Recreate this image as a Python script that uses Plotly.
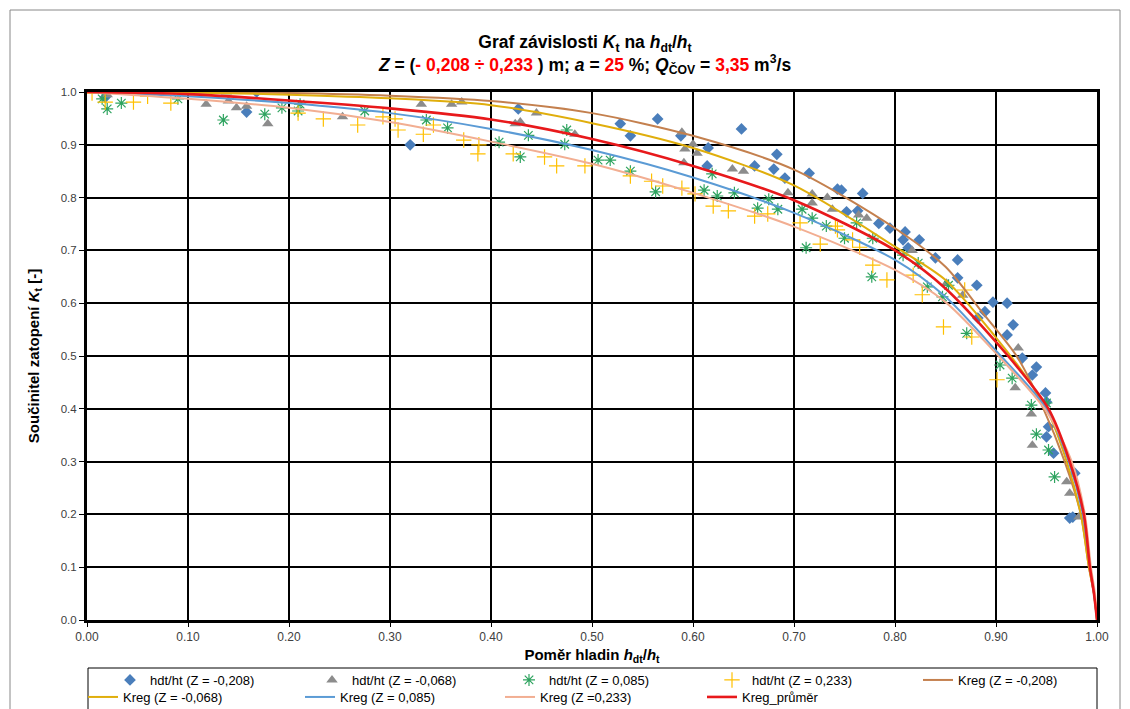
import plotly.graph_objects as go

# ---------------- data ----------------
# measured points hdt/ht vs Kt
p208_x = [0.018, 0.158, 0.168, 0.32, 0.427, 0.528, 0.538, 0.565, 0.588, 0.615, 0.614, 0.648, 0.661, 0.683, 0.680,
          0.691, 0.715, 0.743, 0.747, 0.752, 0.763, 0.768, 0.784, 0.795, 0.810, 0.808, 0.824, 0.813, 0.840, 0.862,
          0.862, 0.881, 0.897, 0.911, 0.889, 0.882, 0.917, 0.911, 0.926, 0.94, 0.936, 0.949, 0.95, 0.952, 0.95,
          0.957, 0.978, 0.976, 0.973]
p208_y = [0.99, 0.962, 1.0, 0.90, 0.968, 0.94, 0.917, 0.949, 0.917, 0.894, 0.86, 0.930, 0.86, 0.882, 0.854,
          0.837, 0.846, 0.816, 0.814, 0.773, 0.775, 0.808, 0.751, 0.742, 0.735, 0.72, 0.72, 0.705, 0.686, 0.682,
          0.648, 0.634, 0.602, 0.600, 0.584, 0.572, 0.559, 0.54, 0.496, 0.479, 0.464, 0.43, 0.413, 0.366, 0.347,
          0.316, 0.278, 0.195, 0.193]

p068_x = [0.02, 0.118, 0.14, 0.148, 0.158, 0.179, 0.138, 0.253, 0.331, 0.361, 0.371, 0.429, 0.424, 0.445, 0.483,
          0.589, 0.592, 0.6, 0.604, 0.591, 0.639, 0.65, 0.694, 0.718, 0.718, 0.733, 0.738, 0.764, 0.772, 0.817,
          0.851, 0.867, 0.922, 0.919, 0.935, 0.936, 0.970, 0.982, 0.973]
p068_y = [0.995, 0.977, 0.983, 0.97, 0.973, 0.94, 1.0, 0.953, 0.977, 0.977, 0.981, 0.943, 0.94, 0.96, 0.92,
          0.924, 0.892, 0.901, 0.884, 0.866, 0.854, 0.85, 0.809, 0.807, 0.79, 0.8, 0.778, 0.767, 0.761, 0.70,
          0.638, 0.615, 0.515, 0.44, 0.39, 0.331, 0.262, 0.195, 0.24]

p085_x = [0.015, 0.02, 0.034, 0.09, 0.135, 0.176, 0.193, 0.209, 0.211, 0.275, 0.336, 0.357, 0.408, 0.429, 0.437,
          0.475, 0.473, 0.506, 0.518, 0.538, 0.563, 0.619, 0.611, 0.624, 0.641, 0.664, 0.675, 0.684, 0.708, 0.712,
          0.718, 0.732, 0.750, 0.762, 0.778, 0.777, 0.808, 0.823, 0.832, 0.847, 0.853, 0.871, 0.904, 0.916, 0.935,
          0.95, 0.94, 0.952, 0.958]
p085_y = [0.987, 0.968, 0.979, 0.987, 0.947, 0.958, 0.97, 0.964, 0.977, 0.964, 0.947, 0.932, 0.905, 0.877, 0.918,
          0.928, 0.901, 0.871, 0.871, 0.85, 0.811, 0.845, 0.814, 0.803, 0.809, 0.78, 0.797, 0.778, 0.778, 0.705,
          0.761, 0.746, 0.723, 0.752, 0.723, 0.65, 0.691, 0.676, 0.631, 0.612, 0.634, 0.543, 0.483, 0.458, 0.407,
          0.411, 0.352, 0.322, 0.271]

p233_x = [0.005, 0.018, 0.046, 0.06, 0.083, 0.09, 0.209, 0.234, 0.268, 0.293, 0.305, 0.308, 0.333, 0.343, 0.373,
          0.388, 0.387, 0.422, 0.453, 0.465, 0.493, 0.538, 0.559, 0.57, 0.589, 0.602, 0.62, 0.635, 0.661, 0.674,
          0.706, 0.726, 0.741, 0.758, 0.743, 0.765, 0.778, 0.792, 0.818, 0.827, 0.848, 0.876, 0.901, 0.869]
p233_y = [0.998, 0.981, 0.981, 0.992, 0.979, 1.0, 0.96, 0.949, 0.9375, 0.953, 0.949, 0.928, 0.92, 0.9375, 0.909,
          0.9, 0.883, 0.883, 0.877, 0.86, 0.86, 0.841, 0.831, 0.822, 0.818, 0.807, 0.784, 0.775, 0.765, 0.769,
          0.752, 0.712, 0.746, 0.72, 0.739, 0.706, 0.672, 0.644, 0.653, 0.616, 0.555, 0.536, 0.455, 0.625]

# regression curves
k208_x = [0, 0.1, 0.2, 0.3, 0.4, 0.5, 0.6, 0.7, 0.8, 0.85, 0.887, 0.921, 0.947, 0.968, 0.984, 0.992, 0.997, 1.0]
k208_y = [1.0, 1.0, 0.998, 0.993, 0.983, 0.96, 0.917, 0.853, 0.742, 0.669, 0.581, 0.498, 0.4, 0.3, 0.2, 0.1, 0.05, 0.0]

k068_x = [0, 0.1, 0.2, 0.3, 0.4, 0.5, 0.6, 0.7, 0.8, 0.85, 0.9, 0.93, 0.95, 0.97, 0.984, 0.992, 0.997, 1.0]
k068_y = [1.0, 0.999, 0.995, 0.988, 0.975, 0.941, 0.894, 0.823, 0.707, 0.644, 0.535, 0.46, 0.4, 0.3, 0.2, 0.1, 0.05, 0.0]

k085_x = [0, 0.1, 0.2, 0.3, 0.4, 0.5, 0.6, 0.7, 0.8, 0.85, 0.9, 0.95, 0.972, 0.986, 0.993, 0.997, 1.0]
k085_y = [1.0, 0.992, 0.979, 0.96, 0.93, 0.89, 0.838, 0.771, 0.682, 0.612, 0.51, 0.4, 0.3, 0.2, 0.1, 0.05, 0.0]

k233_x = [0, 0.1, 0.2, 0.3, 0.4, 0.5, 0.6, 0.7, 0.8, 0.85, 0.9, 0.95, 0.975, 0.988, 0.994, 0.998, 1.0]
k233_y = [1.0, 0.987, 0.97, 0.943, 0.906, 0.864, 0.809, 0.745, 0.663, 0.602, 0.505, 0.395, 0.3, 0.2, 0.1, 0.05, 0.0]

kavg_x = [0, 0.1, 0.2, 0.3, 0.4, 0.5, 0.6, 0.7, 0.8, 0.85, 0.912, 0.952, 0.973, 0.987, 0.993, 0.997, 1.0]
kavg_y = [1.0, 0.996, 0.984, 0.969, 0.948, 0.911, 0.86, 0.795, 0.70, 0.628, 0.5, 0.4, 0.3, 0.2, 0.1, 0.05, 0.0]

x_ticks = [0.0, 0.1, 0.2, 0.3, 0.4, 0.5, 0.6, 0.7, 0.8, 0.9, 1.0]
y_ticks = [0.0, 0.1, 0.2, 0.3, 0.4, 0.5, 0.6, 0.7, 0.8, 0.9, 1.0]

FONT = "Liberation Sans, Arial, sans-serif"

# page body adds an 8px offset; margins compensate so the plot area sits at 87..1097 x 92..620
OFF = 8
ML, MT = 87 - OFF, 92 - OFF
PW, PH = 1010, 528
MR = 1130 - ML - PW
MB = 709 - MT - PH

# legend entry anchors (screen px): (left x, centre y)
LEG_POS = [(110, 680), (312, 680), (509, 680), (712, 680), (918, 680),
           (83, 697), (300, 697), (500, 697), (702, 697)]

fig = go.Figure()

scatter_specs = [
    (p208_x, p208_y, "hdt/ht (Z = -0,208)", dict(symbol="diamond", size=9, color="#4A7EBB")),
    (p068_x, p068_y, "hdt/ht (Z = -0,068)", dict(symbol="triangle-up", size=10, color="#8C8C8C")),
    (p085_x, p085_y, "hdt/ht (Z = 0,085)", dict(symbol="asterisk-open", size=10, color="#2EA35F",
                                                line=dict(color="#2EA35F", width=1.2))),
    (p233_x, p233_y, "hdt/ht (Z = 0,233)", dict(symbol="cross-thin-open", size=11, color="#FFC000",
                                                line=dict(color="#FFC000", width=1.2))),
]
curve_specs = [
    (k208_x, k208_y, "Kreg (Z = -0,208)", "#C4804E", 2),
    (k068_x, k068_y, "Kreg (Z = -0,068)", "#E0AE0C", 2),
    (k085_x, k085_y, "Kreg (Z = 0,085)", "#5B9BD5", 2),
    (k233_x, k233_y, "Kreg (Z =0,233)", "#F2AE92", 2),
    (kavg_x, kavg_y, "Kreg_průměr", "#E8191B", 2.6),
]

legend_names = ["legend"] + ["legend%d" % i for i in range(2, 10)]
idx = 0
for sx, sy, nm, mk in scatter_specs:
    fig.add_trace(go.Scatter(x=sx, y=sy, mode="markers", name=nm, marker=mk, legend=legend_names[idx]))
    idx += 1
for cx, cy, nm, col, w in curve_specs:
    fig.add_trace(go.Scatter(x=cx, y=cy, mode="lines", name=nm, legend=legend_names[idx],
                             line=dict(color=col, width=w, shape="spline", smoothing=0.8)))
    idx += 1

legend_layout = {}
for name, (lx, ly) in zip(legend_names, LEG_POS):
    legend_layout[name] = dict(orientation="h", xref="container", yref="container",
                               x=(lx - OFF) / 1130, xanchor="left",
                               y=1 - (ly - OFF) / 709, yanchor="middle",
                               borderwidth=0, bgcolor="rgba(0,0,0,0)", itemwidth=30,
                               font=dict(family=FONT, size=13, color="#000000"))

title_text = ("<b>Graf závislosti <i>K</i><sub>t</sub> na <i>h</i><sub>dt</sub>/<i>h</i><sub>t</sub><br>"
              "<i>Z</i> = (<span style='color:#FF0000'>- 0,208 ÷ 0,233</span> ) m; <i>a</i> = "
              "<span style='color:#FF0000'>25</span> %; <i>Q</i><sub>ČOV</sub> = "
              "<span style='color:#FF0000'>3,35</span> m<sup>3</sup>/s</b>")

fig.update_layout(
    width=1130, height=709,
    margin=dict(l=ML, r=MR, t=MT, b=MB, autoexpand=False),
    paper_bgcolor="white", plot_bgcolor="white",
    font=dict(family=FONT, size=11, color="#000000"),
    title=dict(text=title_text, x=(585 - OFF) / 1130, xanchor="center", y=0.9435, yanchor="top",
               font=dict(family=FONT, size=17.5, color="#000000")),
    showlegend=True,
    xaxis=dict(range=[0, 1], tickvals=x_ticks, tickformat=".2f", showgrid=True, gridcolor="#000000",
               gridwidth=1.5, showline=True, linecolor="#000000", linewidth=3, mirror=True,
               ticks="outside", ticklen=4, tickcolor="#000000", zeroline=False,
               tickfont=dict(family=FONT, size=12, color="#404040"),
               title=dict(text="<b>Poměr hladin <i>h</i><sub>dt</sub>/<i>h</i><sub>t</sub></b>",
                          font=dict(family=FONT, size=15, color="#000000"), standoff=9)),
    yaxis=dict(range=[0, 1], tickvals=y_ticks, tickformat=".1f", showgrid=True, gridcolor="#000000",
               gridwidth=1.5, showline=True, linecolor="#000000", linewidth=3, mirror=True,
               ticks="outside", ticklen=5, tickcolor="#000000", zeroline=False,
               tickfont=dict(family=FONT, size=11.5, color="#404040"),
               title=dict(text="<b>Součinitel zatopení <i>K</i><sub>t</sub> [-]</b>",
                          font=dict(family=FONT, size=15, color="#000000"), standoff=18)),
    shapes=[
        # outer chart frame
        dict(type="rect", xref="paper", yref="paper", x0=(10 - 87) / PW, x1=(1120 - 87) / PW,
             y0=-0.25, y1=(620 - 10) / PH, line=dict(color="#888888", width=1),
             fillcolor="rgba(0,0,0,0)", layer="below"),
        # legend box
        dict(type="rect", xref="paper", yref="paper", x0=(88 - 87) / PW, x1=(1097 - 87) / PW,
             y0=-0.25, y1=(620 - 668) / PH, line=dict(color="#000000", width=1),
             fillcolor="rgba(0,0,0,0)", layer="below"),
    ],
    **legend_layout,
)

fig.write_html("out.html")
